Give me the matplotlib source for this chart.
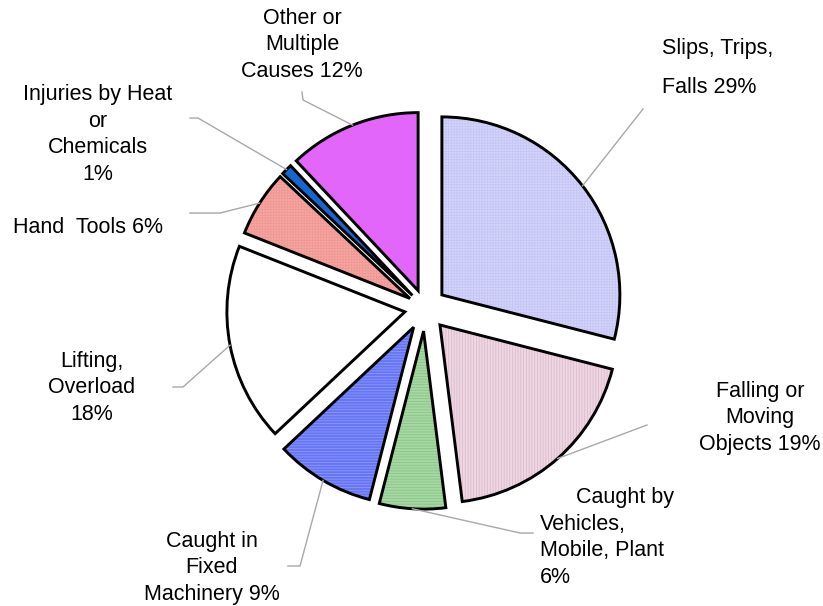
import matplotlib.pyplot as plt
import numpy as np

W, H = 823, 606

categories = ["Slips, Trips, Falls", "Falling or Moving Objects",
              "Caught by Vehicles, Mobile, Plant", "Caught in Fixed Machinery",
              "Lifting, Overload", "Hand Tools", "Injuries by Heat or Chemicals",
              "Other or Multiple Causes"]
shares = [29, 19, 6, 9, 18, 6, 1, 12]
label_texts = ["Slips, Trips,\nFalls 29%",
               "Falling or\nMoving\nObjects 19%",
               "      Caught by\nVehicles,\nMobile, Plant\n6%",
               "Caught in\nFixed\nMachinery 9%",
               "Lifting,\nOverload\n18%",
               "Hand  Tools 6%",
               "Injuries by Heat\nor\nChemicals\n1%",
               "Other or\nMultiple\nCauses 12%"]

colors = ["#d4d4fc", "#eed6e2", "#a6d8a2", "#6676f2", "#ffffff", "#f8a6a2", "#1666d2", "#e266fa"]
hatch_colors = ["#c6c6f4", "#dcbccc", "#8cc48a", "#8c98ff", "#ffffff", "#ee9894", "#1666d2", "#e266fa"]
hatches = ["++++++", "||||||", "------", "------", None, "++++++", None, None]
explode = [0.12, 0.127, 0.13, 0.125, 0.115, 0.1, 0.1, 0.105]

# label anchors (pixel coords from top-left): x, last-line baseline, alignment, spacing
label_pos = [(662, 93, "left", 2.15), (760, 450, "center", 1.35), (540, 583, "left", 1.35),
             (212, 600, "center", 1.35), (92, 420, "center", 1.35), (13, 233, "left", 1.35),
             (98, 180, "center", 1.35), (302, 77, "center", 1.35)]
# leader line points on the label side
leaders = [[(643, 109)], [(647, 425)], [(533, 533), (520, 533)], [(288, 566), (300, 566)],
           [(173, 387), (183, 387)], [(190, 213), (220, 213)],
           [(190, 118), (198, 118)], [(302, 92), (303, 100)]]

plt.rcParams["font.family"] = ["Liberation Sans", "DejaVu Sans"]
plt.rcParams["hatch.linewidth"] = 0.6

fig = plt.figure(figsize=(W / 100, H / 100), dpi=100)
ax = fig.add_axes([0, 0, 1, 1])

center = (425, H - 308)
radius = 178
offsets = [e * radius for e in explode]
wedges, _ = ax.pie(shares, explode=offsets, startangle=90, counterclock=False,
                   center=center, radius=radius, colors=colors,
                   wedgeprops=dict(linewidth=0))
for w, hc, h in zip(wedges, hatch_colors, hatches):
    w.set_edgecolor(hc)
    w.set_linewidth(0)
    if h:
        w.set_hatch(h)

ax.pie(shares, explode=offsets, startangle=90, counterclock=False,
       center=center, radius=radius,
       wedgeprops=dict(fill=False, edgecolor="black", linewidth=2.1))

for w, pts in zip(wedges, leaders):
    t = np.deg2rad((w.theta1 + w.theta2) / 2)
    end = (w.center[0] + w.r * np.cos(t), w.center[1] + w.r * np.sin(t))
    xs = [p[0] for p in pts] + [end[0]]
    ys = [H - p[1] for p in pts] + [end[1]]
    ax.plot(xs, ys, color="#a8a8a8", lw=1, zorder=1)

for txt, (x, y, ha, ls) in zip(label_texts, label_pos):
    ax.text(x, H - y, txt, ha=ha, va="baseline", multialignment=ha,
            fontsize=15.5, linespacing=ls, color="black")

ax.set_xlim(0, W)
ax.set_ylim(0, H)
ax.set_aspect("equal")
ax.axis("off")

fig.savefig("out.png", dpi=100)
